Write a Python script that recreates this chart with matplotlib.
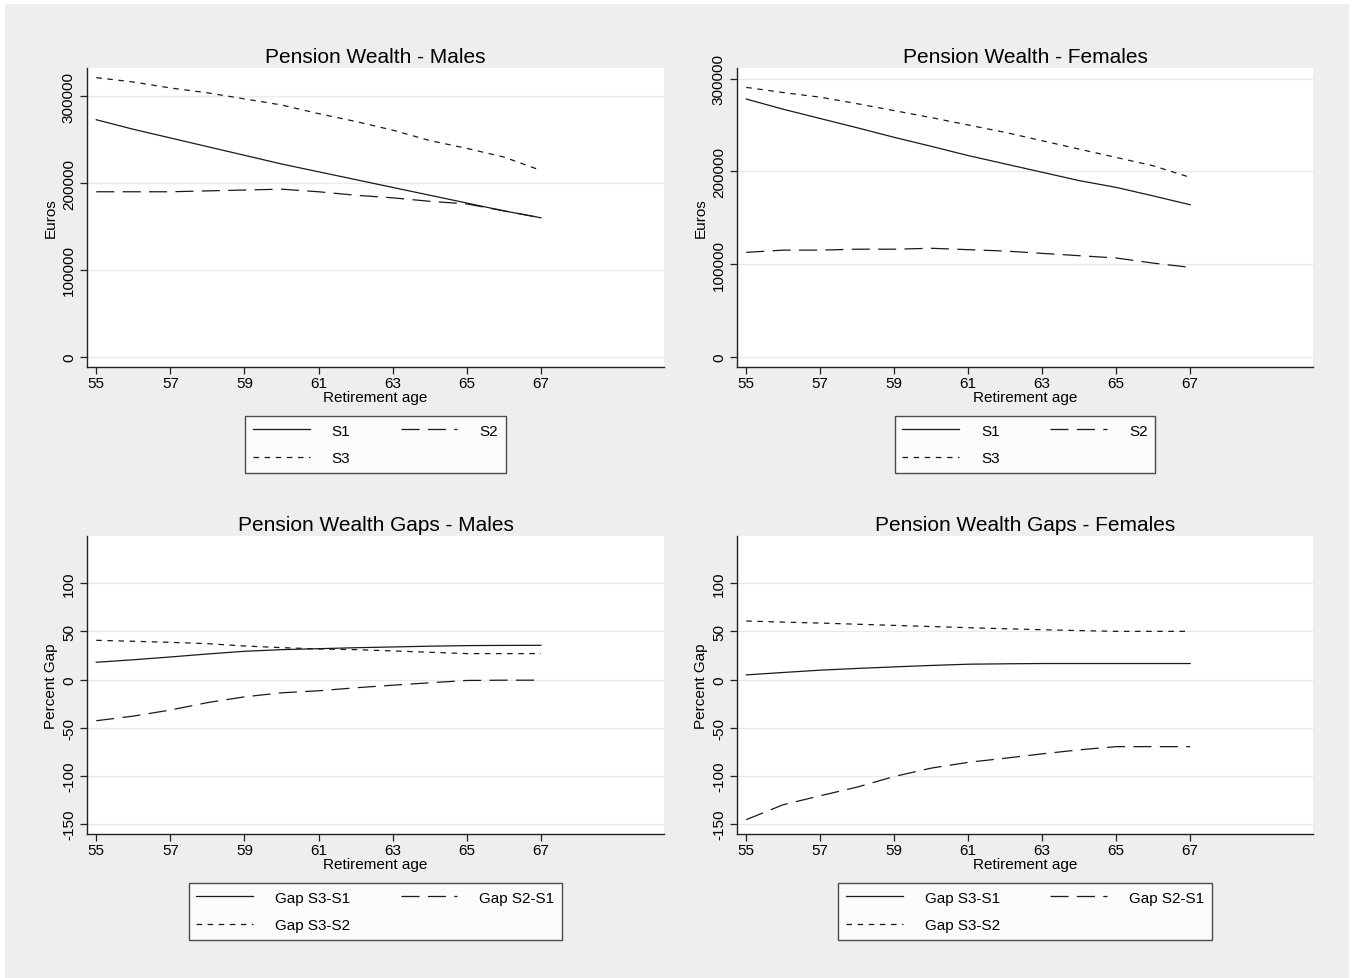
import numpy as np
import matplotlib.pyplot as plt
from matplotlib.patches import Rectangle

plt.rcParams['font.family'] = ['Liberation Sans', 'DejaVu Sans']
plt.rcParams['lines.scale_dashes'] = False

ages = [55, 56, 57, 58, 59, 60, 61, 62, 63, 64, 65, 66, 67]

# pension wealth, euros
males_s1 = [273000, 262000, 252000, 242000, 232000, 222000, 213000, 204000, 195000, 186000, 177000, 168000, 160000]
males_s2 = [190000, 190000, 190000, 191000, 192000, 193000, 190000, 186000, 183000, 179000, 176000, 168000, 160000]
males_s3 = [321500, 316500, 309600, 304000, 297000, 290000, 280000, 271000, 261000, 249000, 240000, 230000, 214600]

females_s1 = [278000, 267000, 257000, 247000, 236700, 227000, 217000, 208000, 199000, 190000, 182700, 173500, 164000]
females_s2 = [112600, 115000, 115000, 116000, 116000, 117000, 115500, 114000, 111500, 109000, 106500, 101000, 96400]
females_s3 = [290600, 285000, 280000, 273000, 265500, 258000, 250000, 242000, 233000, 224000, 215000, 206000, 193500]

# percent gaps
males_gap31 = [17.9, 20.5, 23.4, 26.5, 29.3, 31.0, 32.0, 33.0, 33.8, 34.6, 35.2, 35.4, 35.5]
males_gap21 = [-42.8, -38.0, -31.7, -24.0, -18.0, -13.8, -11.7, -8.6, -5.9, -3.4, -1.0, -0.7, -0.7]
males_gap32 = [40.7, 39.7, 38.6, 37.2, 34.8, 33.1, 31.7, 31.0, 29.7, 28.3, 26.9, 26.9, 26.9]

females_gap31 = [4.8, 7.3, 9.7, 11.5, 13.1, 14.6, 15.9, 16.3, 16.6, 16.6, 16.6, 16.6, 16.6]
females_gap21 = [-145.5, -130.0, -120.7, -111.7, -100.7, -92.0, -86.0, -81.7, -77.2, -73.0, -69.7, -69.7, -69.7]
females_gap32 = [60.7, 59.6, 58.6, 57.4, 56.2, 55.0, 53.8, 52.7, 51.7, 50.8, 50.0, 50.0, 50.0]

wealth_ticks = [0, 100000, 200000, 300000]
gap_ticks = [-150, -100, -50, 0, 50, 100]
age_ticks = [55, 57, 59, 61, 63, 65, 67]

solid = dict(ls='-')
longdash = dict(dashes=(13, 6))
shortdash = dict(dashes=(4, 4))

W, H = 1354, 979
fig = plt.figure(figsize=(W / 100, H / 100), dpi=100, facecolor='white')
fig.patches.append(Rectangle((5 / W, 0), 1344 / W, 1 - 5 / H, transform=fig.transFigure,
                             facecolor='#EEEEEE', edgecolor='none', zorder=-10))


def px_axes(left, top, right, bottom):
    return fig.add_axes([left / W, 1 - bottom / H, (right - left) / W, (bottom - top) / H])


def style(ax, title, ylabel, yticks, ylim):
    ax.set_facecolor('white')
    ax.set_xlim(54.75, 70.32)
    ax.set_ylim(*ylim)
    ax.set_xticks(age_ticks)
    ax.set_yticks(yticks)
    ax.set_yticklabels([str(t) for t in yticks])
    for s in ['top', 'right']:
        ax.spines[s].set_visible(False)
    for s in ['left', 'bottom']:
        ax.spines[s].set_linewidth(1.0)
        ax.spines[s].set_color('#222222')
    ax.grid(axis='y', color='#EAEAEA', lw=1.0)
    ax.set_axisbelow(True)
    ax.tick_params(axis='both', direction='out', length=5, width=0.9, labelsize=11, color='#222222')
    ax.tick_params(axis='x', pad=1.5)
    ax.tick_params(axis='y', labelrotation=90, pad=3)
    for lbl in ax.get_yticklabels():
        lbl.set_va('center')
    ax.set_title(title, fontsize=15, pad=4.5)
    ax.set_xlabel('Retirement age', fontsize=11, labelpad=0)
    ax.set_ylabel(ylabel, fontsize=11, labelpad=3)


def draw(ax, series, labels):
    styles = [solid, longdash, shortdash]
    for vals, lab, st in zip(series, labels, styles):
        ax.plot(ages, vals, color='#1A1A1A', lw=0.9, label=lab, **st)
    h, l = ax.get_legend_handles_labels()
    # matplotlib fills legend columns first; reorder so rows read 1 2 / 3
    order = [0, 2, 1]
    leg = ax.legend([h[i] for i in order], [l[i] for i in order],
                    loc='upper center', bbox_to_anchor=(0.5, -0.164), ncol=2,
                    fontsize=11, frameon=True, fancybox=False, edgecolor='#222222',
                    handlelength=3.7, handletextpad=1.45, columnspacing=3.3,
                    labelspacing=0.9, borderpad=0.5, borderaxespad=0)
    leg.get_frame().set_linewidth(1.0)


ax1 = px_axes(87, 69, 664, 368)
draw(ax1, [males_s1, males_s2, males_s3], ['S1', 'S2', 'S3'])
style(ax1, 'Pension Wealth - Males', 'Euros', wealth_ticks, (-11900, 332600))

ax2 = px_axes(737, 69, 1313, 368)
draw(ax2, [females_s1, females_s2, females_s3], ['S1', 'S2', 'S3'])
style(ax2, 'Pension Wealth - Females', 'Euros', wealth_ticks, (-11100, 311500))

gap_labels = ['Gap S3-S1', 'Gap S2-S1', 'Gap S3-S2']
ax3 = px_axes(87, 537, 664, 835)
draw(ax3, [males_gap31, males_gap21, males_gap32], gap_labels)
style(ax3, 'Pension Wealth Gaps - Males', 'Percent Gap', gap_ticks, (-160.4, 149))

ax4 = px_axes(737, 537, 1313, 835)
draw(ax4, [females_gap31, females_gap21, females_gap32], gap_labels)
style(ax4, 'Pension Wealth Gaps - Females', 'Percent Gap', gap_ticks, (-160.4, 149))

fig.savefig('out.png', dpi=100, facecolor=fig.get_facecolor())
